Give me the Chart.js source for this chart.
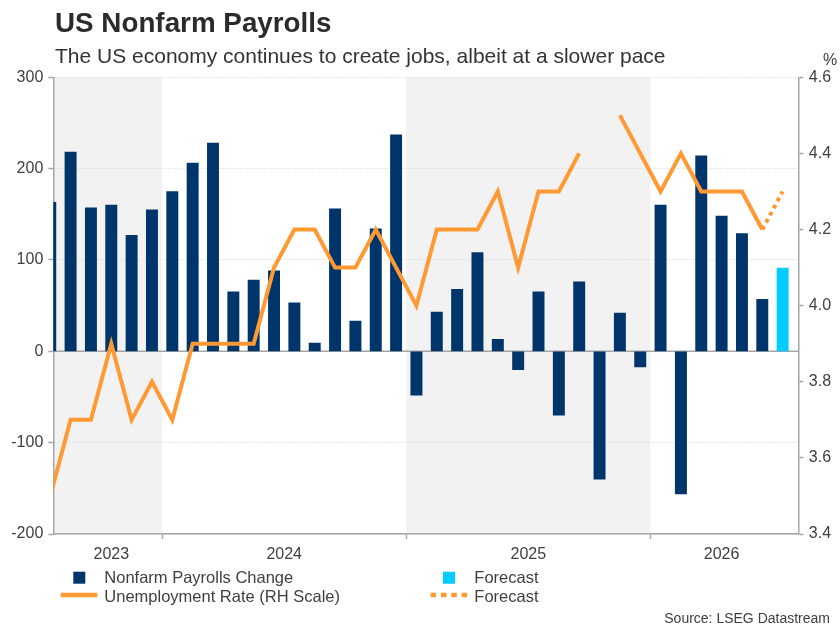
<!DOCTYPE html>
<html>
<head>
<meta charset="utf-8">
<script src="https://cdn.jsdelivr.net/npm/chart.js@4.4.1/dist/chart.umd.min.js"></script>
<style>
  html, body { margin: 0; padding: 0; background: #ffffff; }
  canvas { display: block; }
</style>
</head>
<body>
<canvas id="c" width="840" height="629"></canvas>
<script>
// ---------------- DATA ----------------
const months = [
  'Jul 2023','Aug 2023','Sep 2023','Oct 2023','Nov 2023','Dec 2023',
  'Jan 2024','Feb 2024','Mar 2024','Apr 2024','May 2024','Jun 2024',
  'Jul 2024','Aug 2024','Sep 2024','Oct 2024','Nov 2024','Dec 2024',
  'Jan 2025','Feb 2025','Mar 2025','Apr 2025','May 2025','Jun 2025',
  'Jul 2025','Aug 2025','Sep 2025','Oct 2025','Nov 2025','Dec 2025',
  'Jan 2026','Feb 2026','Mar 2026','Apr 2026','May 2026','Jun 2026',
  'Jul 2026'
];
// Nonfarm payrolls change (thousands), Jul 2023 - Jun 2026
const payrolls = [
  163, 218, 157, 160, 127, 155,
  175, 206, 228, 65, 78, 88, 53, 9, 156, 33, 134, 237,
  -48, 43, 68, 108, 13, -20, 65, -70, 76, -140, 42, -17,
  160, -156, 214, 148, 129, 57
];
const payrollForecastMonths = ['Jul 2026'];
const payrollForecast = [91];
// Unemployment rate (%), Jul 2023 - Jun 2026 (Oct 2025 missing)
const unemployment = [
  3.5, 3.7, 3.7, 3.9, 3.7, 3.8,
  3.7, 3.9, 3.9, 3.9, 3.9, 4.1, 4.2, 4.2, 4.1, 4.1, 4.2, 4.1,
  4.0, 4.2, 4.2, 4.2, 4.3, 4.1, 4.3, 4.3, 4.4, null, 4.5, 4.4,
  4.3, 4.4, 4.3, 4.3, 4.3, 4.2
];
const unemploymentForecastMonths = ['Jun 2026', 'Jul 2026'];
const unemploymentForecast = [4.2, 4.3];
const yearLabels = ['2023', '2024', '2025', '2026'];
const leftTicks = [-200, -100, 0, 100, 200, 300];
const rightTicks = [3.4, 3.6, 3.8, 4.0, 4.2, 4.4, 4.6];

// ---------------- STYLE ----------------
const NAVY = '#00356b';
const CYAN = '#00ccff';
const ORANGE = '#ff9933';
const AXIS = '#a6a6a6';
const GRID = '#d3d3d3';
const TXT = '#404040';
const FONT = 'Liberation Sans, Arial, sans-serif';
const X_MIN = 0.15, X_MAX = 36.77;

// ---------------- DERIVED ----------------
const idx = m => months.indexOf(m);
const yearOf = m => m.slice(-4);
const barData = payrolls.map((v, i) => ({ x: i, y: v }));
const fcBarData = payrollForecastMonths.map((m, k) => ({ x: idx(m), y: payrollForecast[k] }));
const lineData = unemployment.map((v, i) => ({ x: i, y: v }));
const fcLineData = unemploymentForecastMonths.map((m, k) => ({ x: idx(m), y: unemploymentForecast[k] }));

const yearIdx = y => months.map((m, i) => yearOf(m) === y ? i : -1).filter(i => i >= 0);
const boundaries = [];
months.forEach((m, i) => { if (i > 0 && yearOf(m) !== yearOf(months[i - 1])) boundaries.push(i - 0.5); });
const yearCenters = yearLabels.map(y => {
  const full = yearIdx(y).filter(i => i - 0.5 >= X_MIN && i + 0.5 <= X_MAX);
  return ((full[0] - 0.5) + (full[full.length - 1] + 0.5)) / 2;
});

// ---------------- PLUGIN ----------------
const decor = {
  id: 'decor',
  beforeDraw(chart) {
    const { ctx, chartArea: a, scales: { x } } = chart;
    ctx.save();
    ctx.fillStyle = '#ffffff';
    ctx.fillRect(0, 0, chart.width, chart.height);
    ctx.fillStyle = '#f2f2f2';
    yearLabels.forEach((yr, k) => {
      if (k % 2 !== 0) return;
      const ids = yearIdx(yr);
      let x0 = x.getPixelForValue(ids[0] - 0.5);
      let x1 = x.getPixelForValue(ids[ids.length - 1] + 0.5);
      x0 = Math.max(x0, a.left); x1 = Math.min(x1, a.right);
      ctx.fillRect(x0, a.top, x1 - x0, a.bottom - a.top);
    });
    ctx.restore();
  },
  beforeDatasetsDraw(chart) {
    const { ctx, chartArea: a, scales: { y } } = chart;
    const y0 = y.getPixelForValue(0);
    ctx.save();
    ctx.strokeStyle = AXIS;
    ctx.lineWidth = 1.5;
    ctx.beginPath();
    ctx.moveTo(a.left, y0); ctx.lineTo(a.right, y0);
    ctx.stroke();
    ctx.restore();
  },
  afterDraw(chart) {
    const ctx = chart.ctx;
    const ds = chart.data.datasets;
    ctx.save();
    // title & subtitle
    ctx.textBaseline = 'alphabetic';
    ctx.textAlign = 'left';
    ctx.fillStyle = '#2b2b2b';
    ctx.font = 'bold 27.8px ' + FONT;
    ctx.fillText('US Nonfarm Payrolls', 55, 31.5);
    ctx.fillStyle = '#333333';
    ctx.font = '21px ' + FONT;
    ctx.fillText('The US economy continues to create jobs, albeit at a slower pace', 55, 63);
    // % unit
    ctx.fillStyle = TXT;
    ctx.font = '16px ' + FONT;
    ctx.textAlign = 'center';
    ctx.fillText('%', 830, 65);
    // legend
    ctx.textAlign = 'left';
    ctx.font = '16.5px ' + FONT;
    const items = [
      { kind: 'box', color: ds[2].backgroundColor, label: ds[2].label, mx: 73.3, tx: 104.3, row: 0 },
      { kind: 'line', color: ds[0].borderColor, dash: [], label: ds[0].label, mx: 60.7, tx: 104.3, row: 1 },
      { kind: 'box', color: ds[3].backgroundColor, label: ds[3].label, mx: 443, tx: 474.3, row: 0 },
      { kind: 'line', color: ds[1].borderColor, dash: [5.5, 4.8], label: ds[1].label, mx: 430.7, tx: 474.3, row: 1 }
    ];
    items.forEach(it => {
      const base = it.row === 0 ? 583.3 : 601.7;
      if (it.kind === 'box') {
        ctx.fillStyle = it.color;
        ctx.fillRect(it.mx, 571.7, 12, 12);
      } else {
        ctx.strokeStyle = it.color;
        ctx.lineWidth = 4.5;
        ctx.setLineDash(it.dash);
        ctx.beginPath();
        ctx.moveTo(it.mx, 595); ctx.lineTo(it.mx + 36.6, 595);
        ctx.stroke();
        ctx.setLineDash([]);
      }
      ctx.fillStyle = TXT;
      ctx.fillText(it.label, it.tx, base);
    });
    // source
    ctx.textAlign = 'right';
    ctx.font = '14px ' + FONT;
    ctx.fillStyle = TXT;
    ctx.fillText('Source: LSEG Datastream', 830, 623);
    ctx.restore();
  }
};

// ---------------- CHART ----------------
new Chart(document.getElementById('c'), {
  type: 'bar',
  data: {
    datasets: [
      { type: 'line', label: 'Unemployment Rate (RH Scale)', data: lineData, yAxisID: 'y1',
        borderColor: ORANGE, borderWidth: 4, pointRadius: 0, tension: 0, order: 0 },
      { type: 'line', label: 'Forecast', data: fcLineData, yAxisID: 'y1',
        borderColor: ORANGE, borderWidth: 4, borderDash: [4, 4], pointRadius: 0, tension: 0, order: 0 },
      { type: 'bar', label: 'Nonfarm Payrolls Change', data: barData, yAxisID: 'y',
        backgroundColor: NAVY, barThickness: 11.3, grouped: false, clip: 0, order: 1 },
      { type: 'bar', label: 'Forecast', data: fcBarData, yAxisID: 'y',
        backgroundColor: CYAN, barThickness: 11.3, grouped: false, clip: 0, order: 1 }
    ]
  },
  options: {
    responsive: false,
    animation: false,
    devicePixelRatio: 1,
    layout: { padding: { top: 77.3, left: 0, right: 0, bottom: 0 } },
    plugins: { legend: { display: false }, tooltip: { enabled: false }, title: { display: false } },
    scales: {
      x: {
        type: 'linear', min: X_MIN, max: X_MAX, offset: false,
        afterFit: s => { s.height = 95; },
        afterBuildTicks: s => {
          s.ticks = boundaries.concat(yearCenters).sort((a, b) => a - b).map(v => ({ value: v }));
        },
        ticks: {
          autoSkip: false, maxRotation: 0, minRotation: 0, padding: 6,
          color: TXT, font: { family: FONT, size: 16 },
          callback: v => { const k = yearCenters.indexOf(v); return k >= 0 ? yearLabels[k] : ''; }
        },
        grid: {
          drawOnChartArea: false, drawTicks: true, tickLength: 5, offset: false,
          tickColor: c => (c.tick && boundaries.includes(c.tick.value)) ? AXIS : 'rgba(0,0,0,0)',
          tickWidth: 1.5
        },
        border: { display: true, color: AXIS, width: 1.5 }
      },
      y: {
        position: 'left', min: -200, max: 300,
        afterFit: s => { s.width = 53.3; },
        afterBuildTicks: s => { s.ticks = leftTicks.map(v => ({ value: v })); },
        ticks: { padding: 5, color: TXT, font: { family: FONT, size: 16 }, callback: v => String(v) },
        grid: { color: GRID, lineWidth: 1, drawTicks: true, tickLength: 5, tickColor: AXIS, tickWidth: 1.5 },
        border: { display: true, color: AXIS, width: 1.5, dash: [1, 2] }
      },
      y1: {
        position: 'right', min: 3.4, max: 4.6,
        afterFit: s => { s.width = 41.7; },
        afterBuildTicks: s => { s.ticks = rightTicks.map(v => ({ value: v })); },
        ticks: { padding: 5.5, color: TXT, font: { family: FONT, size: 16 }, callback: v => Number(v).toFixed(1) },
        grid: { drawOnChartArea: false, drawTicks: true, tickLength: 5, tickColor: AXIS, tickWidth: 1.5 },
        border: { display: true, color: AXIS, width: 1.5 }
      }
    }
  },
  plugins: [decor]
});
</script>
</body>
</html>
